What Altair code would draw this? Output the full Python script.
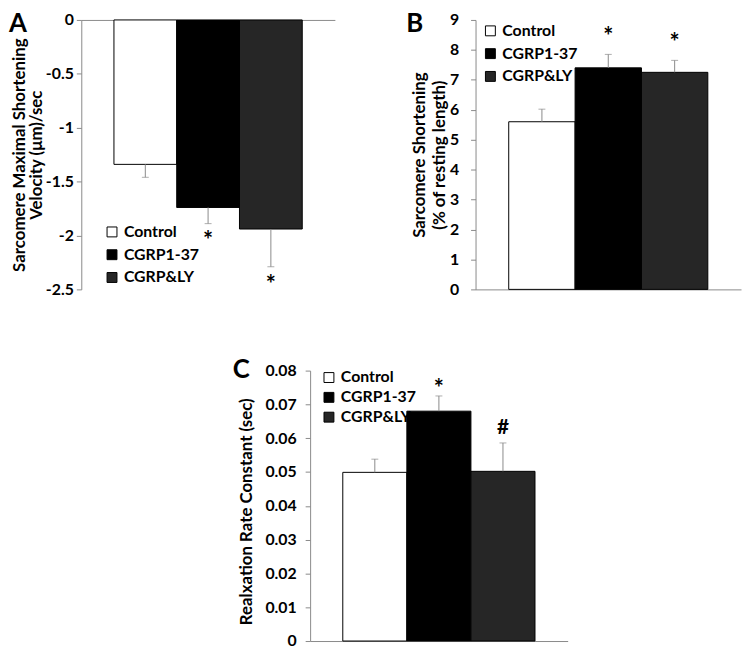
import altair as alt
import pandas as pd

# ---------------- data ----------------
groups = ["Control", "CGRP1-37", "CGRP&LY"]
fills = ["#ffffff", "#000000", "#262626"]

a_values = [-1.34, -1.74, -1.94]
a_errors = [0.12, 0.15, 0.35]
a_marks = ["", "*", "*"]
a_ticks = [-2.5, -2, -1.5, -1, -0.5, 0]
a_title = ["Sarcomere Maximal Shortening", "Velocity (\u03bcm)/sec"]

b_values = [5.6, 7.4, 7.25]
b_errors = [0.42, 0.45, 0.40]
b_marks = ["", "*", "*"]
b_ticks = [0, 1, 2, 3, 4, 5, 6, 7, 8, 9]
b_title = ["Sarcomere Shortening", "(% of resting length)"]

c_values = [0.0499, 0.068, 0.0502]
c_errors = [0.0039, 0.0045, 0.0084]
c_marks = ["", "*", "#"]
c_ticks = [0, 0.01, 0.02, 0.03, 0.04, 0.05, 0.06, 0.07, 0.08]
c_title = "Realxation Rate Constant (sec)"

panel_letters = ["A", "B", "C"]

# ---------------- style ----------------
FONT = "Lato"
W, H = 741, 643
GRAY = "#8a8a8a"


def panel(values, errors, marks, ticks, sign, xrange, yrange, pad_outer,
          x_orient, x_offset, y_offset, ytitle, title_x, title_y, title_lh,
          label_pad, legend_x, legend_y, row_pad, star_dy, hash_dy):
    df = pd.DataFrame({"group": groups, "value": values, "err": errors, "mark": marks})
    df["end"] = df["value"] + sign * df["err"]
    base = alt.Chart(df)

    xscale = alt.Scale(domain=groups, range=xrange, paddingInner=0, paddingOuter=pad_outer)
    xaxis = alt.Axis(orient=x_orient, offset=x_offset, labels=False, ticks=False,
                     title=None, domainColor=GRAY, domainWidth=1, grid=False)
    x = alt.X("group:N", sort=groups, scale=xscale, axis=xaxis)

    yscale = alt.Scale(domain=[ticks[0], ticks[-1]], range=yrange, nice=False, zero=False)
    yaxis = alt.Axis(orient="left", offset=y_offset, values=ticks,
                     labelExpr="toString(datum.value)", title=ytitle,
                     titleAngle=270, titleAlign="center", titleBaseline="middle",
                     titleX=title_x, titleY=title_y, titleLineHeight=title_lh,
                     tickSize=5, labelPadding=label_pad, grid=False,
                     domainColor=GRAY, tickColor=GRAY)

    bars = base.mark_bar(stroke="black", strokeWidth=1).encode(
        x=x,
        y=alt.Y("value:Q", scale=yscale, axis=yaxis),
        color=alt.Color("group:N", scale=alt.Scale(domain=groups, range=fills),
                        legend=alt.Legend(orient="none", legendX=legend_x, legendY=legend_y,
                                          direction="vertical", title=None,
                                          symbolType="square", symbolSize=100,
                                          symbolStrokeColor="black", symbolStrokeWidth=1,
                                          labelFont=FONT, labelFontSize=16,
                                          labelFontWeight="bold", labelColor="black",
                                          rowPadding=row_pad, labelOffset=4, padding=0)),
    )
    rules = base.mark_rule(color=GRAY, strokeWidth=1).encode(
        x=x,
        y=alt.Y("value:Q", scale=yscale, axis=yaxis),
        y2="end:Q",
    )
    caps = base.mark_tick(color=GRAY, size=7, thickness=1, orient="horizontal").encode(
        x=x,
        y=alt.Y("end:Q", scale=yscale, axis=yaxis),
    )
    stars = base.transform_filter(alt.datum.mark == "*").mark_text(
        font=FONT, fontSize=24, fontWeight="bold", baseline="alphabetic", dy=star_dy,
        color="black"
    ).encode(x=x, y=alt.Y("end:Q", scale=yscale, axis=yaxis), text="mark:N")
    hashes = base.transform_filter(alt.datum.mark == "#").mark_text(
        font=FONT, fontSize=21, fontWeight="bold", baseline="alphabetic", dy=hash_dy,
        color="black"
    ).encode(x=x, y=alt.Y("end:Q", scale=yscale, axis=yaxis), text="mark:N")
    return alt.layer(bars, rules, caps, stars, hashes)


pA = panel(a_values, a_errors, a_marks, a_ticks, -1, [74, 330], [281, 9], 0.52,
           "top", -9, -74, a_title, -62.5, 145, 17.5, 3, 97, 215, 7, 26, 0)
pB = panel(b_values, b_errors, b_marks, b_ticks, 1, [472, 740], [281, 9], 0.5,
           "bottom", 281 - H, -472, b_title, -57, 145, 21, 12, 479, 12, 7, -9, 0)
pC = panel(c_values, c_errors, c_marks, c_ticks, 1, [305, 565], [636, 363], 0.51,
           "bottom", 636 - H, -305, c_title, -64, 505, 19, 9, 316, 362, 4, 1, -9)


def letter(i, xv, yv):
    return alt.Chart(pd.DataFrame({"t": [panel_letters[i]]})).mark_text(
        font=FONT, fontSize=26, fontWeight="bold", align="left", baseline="top", color="black"
    ).encode(text="t:N", x=alt.value(xv), y=alt.value(yv))


chart = alt.layer(
    pA, pB, pC, letter(0, 1, 0), letter(1, 402, 0), letter(2, 227, 349)
).resolve_scale(
    x="independent", y="independent", color="independent"
).resolve_axis(
    x="independent", y="independent"
).resolve_legend(
    color="independent"
).properties(
    width=W, height=H, autosize=alt.AutoSizeParams(type="none"), padding=0
).configure_view(
    stroke=None
).configure_axis(
    labelFont=FONT, labelFontSize=16, labelFontWeight="bold", labelColor="black",
    titleFont=FONT, titleFontSize=17, titleFontWeight="bold", titleColor="black",
)

chart.save("out.html", embed_options={"renderer": "svg", "actions": False})
